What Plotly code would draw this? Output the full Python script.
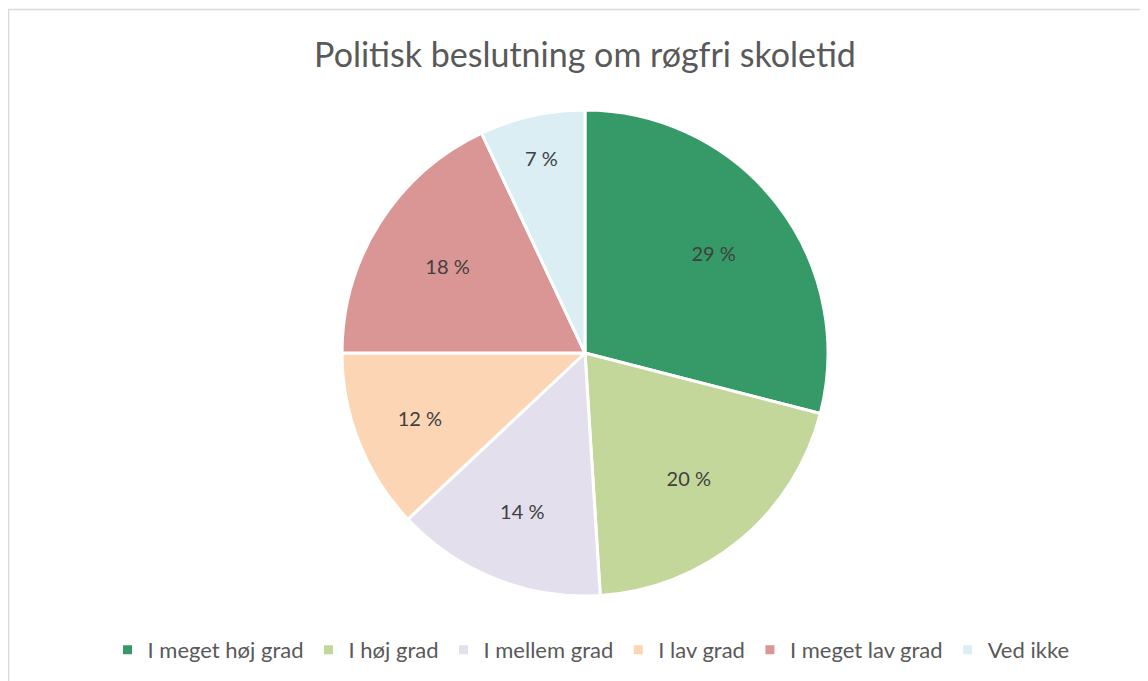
import plotly.graph_objects as go

categories = ["I meget høj grad", "I høj grad", "I mellem grad", "I lav grad", "I meget lav grad", "Ved ikke"]
values = [29, 20, 14, 12, 18, 7]
colors = ["#359A67", "#C4D79B", "#E4DFEC", "#FCD5B4", "#DA9694", "#DAEEF3"]
title_text = "Politisk beslutning om røgfri skoletid"

# page body adds an 8px offset, so the figure is slightly smaller than the window
W, H = 1140, 673
cx, cy, r = 577, 345, 243
dom = dict(x=[(cx - r) / W, (cx + r) / W], y=[1 - (cy + r) / H, 1 - (cy - r) / H])
FONT = "Lato, Open Sans, sans-serif"

fig = go.Figure()
fig.add_trace(go.Pie(
    labels=categories,
    values=values,
    sort=False,
    direction="clockwise",
    rotation=0,
    marker=dict(colors=colors, line=dict(color="white", width=3)),
    textinfo="none",
    hoverinfo="label+percent",
    domain=dom,
))
# transparent ring used only to place the percentage labels further out
fig.add_trace(go.Pie(
    labels=categories,
    values=values,
    sort=False,
    direction="clockwise",
    rotation=0,
    hole=0.34,
    marker=dict(colors=["rgba(0,0,0,0)"] * len(values), line=dict(width=0)),
    texttemplate="%{value} %",
    textposition="inside",
    insidetextorientation="horizontal",
    textfont=dict(family=FONT, size=20, color="#404040"),
    hoverinfo="skip",
    showlegend=False,
    domain=dom,
))

fig.update_layout(
    width=W, height=H,
    margin=dict(l=0, r=0, t=0, b=0),
    paper_bgcolor="white",
    plot_bgcolor="white",
    title=dict(text=title_text, x=(585 - 8) / W, xanchor="center", y=1 - 47 / H, yanchor="middle",
               font=dict(family=FONT, size=34, color="#595959")),
    legend=dict(orientation="h", x=(591 - 8) / W, xanchor="center", y=1 - 642 / H, yanchor="middle",
                font=dict(family=FONT, size=22, color="#595959"),
                itemwidth=30, traceorder="normal"),
    shapes=[dict(type="rect", xref="paper", yref="paper",
                 x0=0.5 / W, y0=-0.05, x1=1.05, y1=1 - 1.5 / H,
                 line=dict(color="#D9D9D9", width=1.5), layer="below")],
)

fig.write_html("out.html")
